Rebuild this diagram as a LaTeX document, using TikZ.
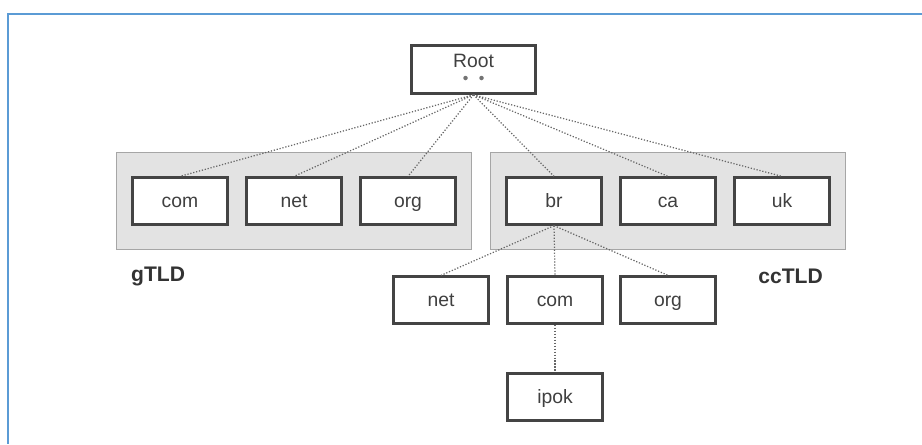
\documentclass[tikz,border=0pt]{standalone}
\usepackage{fontspec}
\setmainfont{Liberation Sans}
\usepackage{xcolor}
\usepackage{tikz}
\usetikzlibrary{calc,fit,backgrounds}

\definecolor{framebl}{HTML}{5B9BD5}
\definecolor{boxgr}{HTML}{444444}
\definecolor{zonegr}{HTML}{E3E3E3}

\begin{document}
\begin{tikzpicture}[x=0.02cm,y=-0.02cm,
    dom/.style={draw=boxgr,line width=1.3pt,fill=white,minimum width=1.9cm,
      minimum height=0.94cm,inner sep=0pt,text height=1.6ex,text depth=0.3ex,
      font=\fontsize{11}{13}\selectfont,text=black!75},
    zone/.style={draw=black!35,fill=zonegr,line width=0.6pt,inner xsep=0.3cm,inner ysep=0.48cm},
    link/.style={densely dotted,black!60,line width=0.7pt},
    tld/.style={font=\bfseries\fontsize{12}{14}\selectfont,text=black!80}]
  \useasboundingbox (0,0) rectangle (922,444);
  \draw[framebl,line width=1.5pt] (922,14) -- (8,14) -- (8,444);

  % root
  \node[dom,minimum width=2.48cm,minimum height=0.96cm,line width=1.5pt] (root) at (473.5,69.5) {};
  \node[font=\fontsize{11}{13}\selectfont,text=black!75,inner sep=1pt] (rootlbl) at (473.5,61) {Root};
  \foreach \dx in {-8,8}{
    \fill[black!55] ($(473.5,78)+(\dx,0)$) circle (0.045cm);
  }

  % top level domains
  \node[dom] (com) at (180,201) {com};
  \node[dom] (net) at (294,201) {net};
  \node[dom] (org) at (408,201) {org};
  \node[dom] (br)  at (554,201) {br};
  \node[dom] (ca)  at (668,201) {ca};
  \node[dom] (uk)  at (782,201) {uk};

  % second level under br
  \node[dom] (brnet) at (441,300) {net};
  \node[dom] (brcom) at (555,300) {com};
  \node[dom] (brorg) at (668,300) {org};
  \node[dom] (ipok)  at (555,397) {ipok};

  \begin{scope}[on background layer]
    \node[zone,fit=(com)(org)] (gtld) {};
    \node[zone,fit=(br)(uk)] (cctld) {};
  \end{scope}

  \node[tld,anchor=west] (gtldlbl) at (125,276) {gTLD};
  \node[tld,anchor=east] (cctldlbl) at (829,276) {ccTLD};

  \foreach \t in {com,net,org,br,ca,uk}{
    \draw[link] (root.south) -- (\t.north);
  }
  \foreach \t in {brnet,brcom,brorg}{
    \draw[link] (br.south) -- (\t.north);
  }
  \draw[link] (brcom.south) -- (ipok.north);
\end{tikzpicture}
\end{document}
